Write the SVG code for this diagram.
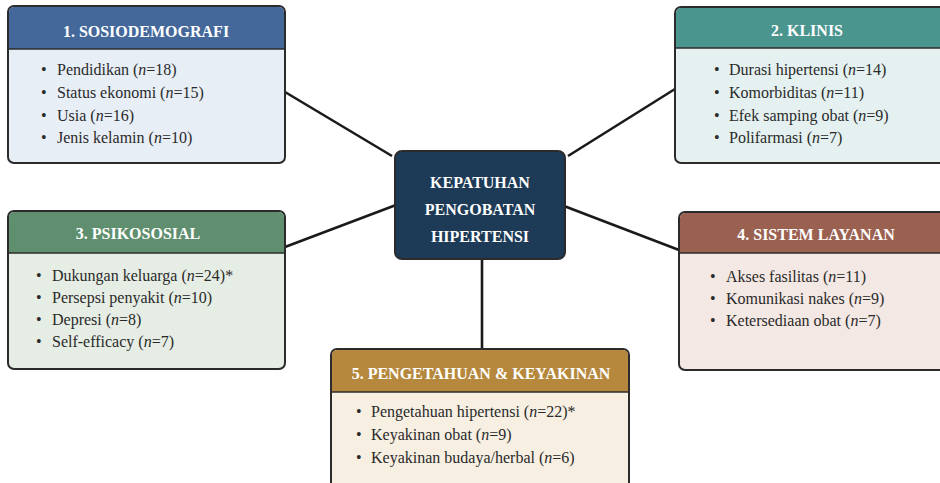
<svg xmlns="http://www.w3.org/2000/svg" width="940" height="483" viewBox="0 0 940 483">
<style>
.frame{stroke:#2b2b2b;stroke-width:2}
.sep{stroke:#2b2b2b;stroke-width:1.6}
.title{font-family:"Liberation Serif","Times New Roman",serif;font-size:16px;font-weight:bold;fill:#ffffff;text-anchor:middle}
.item{font-family:"Liberation Serif","Times New Roman",serif;font-size:16px;fill:#2a2a2a}
.i{font-style:italic}
.link{stroke:#1a1a1a;stroke-width:2.6;fill:none}
</style>
<rect width="940" height="483" fill="#ffffff"/>
<g id="connectors">
<line class="link" x1="285" y1="92" x2="392" y2="156"/>
<line class="link" x1="675" y1="89" x2="568" y2="156"/>
<line class="link" x1="285" y1="247" x2="396" y2="205"/>
<line class="link" x1="564" y1="206" x2="679" y2="250"/>
<line class="link" x1="482" y1="259" x2="482" y2="349"/>
</g>
<g id="center">
<rect x="395" y="151" width="170" height="108" rx="7" fill="#1d3a56" class="frame"/>
<text class="title" x="480" y="188">KEPATUHAN</text>
<text class="title" x="480" y="215">PENGOBATAN</text>
<text class="title" x="480" y="242">HIPERTENSI</text>
</g>
<g id="sosiodemografi">
<rect x="8" y="6" width="277" height="157" rx="6" fill="#e8eef6" class="frame"/>
<path d="M9,49 V12 a5,5 0 0 1 5,-5 H279 a5,5 0 0 1 5,5 V49 Z" fill="#44689a"/>
<line class="sep" x1="8" y1="49" x2="285" y2="49"/>
<text class="title" x="146" y="37">1. SOSIODEMOGRAFI</text>
<text class="item" x="41" y="75">•</text><text class="item" x="57" y="75">Pendidikan (<tspan class="i">n</tspan>=18)</text>
<text class="item" x="41" y="98">•</text><text class="item" x="57" y="98">Status ekonomi (<tspan class="i">n</tspan>=15)</text>
<text class="item" x="41" y="121">•</text><text class="item" x="57" y="121">Usia (<tspan class="i">n</tspan>=16)</text>
<text class="item" x="41" y="143">•</text><text class="item" x="57" y="143">Jenis kelamin (<tspan class="i">n</tspan>=10)</text>
</g>
<g id="klinis">
<rect x="675" y="7" width="275" height="156" rx="6" fill="#e4f1f0" class="frame"/>
<path d="M676,48 V13 a5,5 0 0 1 5,-5 H950 V48 Z" fill="#4b958f"/>
<line class="sep" x1="675" y1="48" x2="945" y2="48"/>
<text class="title" x="807" y="36">2. KLINIS</text>
<text class="item" x="714" y="75">•</text><text class="item" x="729" y="75">Durasi hipertensi (<tspan class="i">n</tspan>=14)</text>
<text class="item" x="714" y="98">•</text><text class="item" x="729" y="98">Komorbiditas (<tspan class="i">n</tspan>=11)</text>
<text class="item" x="714" y="121">•</text><text class="item" x="729" y="121">Efek samping obat (<tspan class="i">n</tspan>=9)</text>
<text class="item" x="714" y="143">•</text><text class="item" x="729" y="143">Polifarmasi (<tspan class="i">n</tspan>=7)</text>
</g>
<g id="psikososial">
<rect x="8" y="211" width="277" height="158" rx="6" fill="#e6ede4" class="frame"/>
<path d="M9,253 V217 a5,5 0 0 1 5,-5 H279 a5,5 0 0 1 5,5 V253 Z" fill="#5f8f6f"/>
<line class="sep" x1="8" y1="253" x2="285" y2="253"/>
<text class="title" x="138" y="239">3. PSIKOSOSIAL</text>
<text class="item" x="36" y="281">•</text><text class="item" x="52" y="281">Dukungan keluarga (<tspan class="i">n</tspan>=24)*</text>
<text class="item" x="36" y="303">•</text><text class="item" x="52" y="303">Persepsi penyakit (<tspan class="i">n</tspan>=10)</text>
<text class="item" x="36" y="325">•</text><text class="item" x="52" y="325">Depresi (<tspan class="i">n</tspan>=8)</text>
<text class="item" x="36" y="347">•</text><text class="item" x="52" y="347">Self-efficacy (<tspan class="i">n</tspan>=7)</text>
</g>
<g id="sistem-layanan">
<rect x="679" y="212" width="271" height="158" rx="6" fill="#f4e8e4" class="frame"/>
<path d="M680,253 V218 a5,5 0 0 1 5,-5 H950 V253 Z" fill="#9b6150"/>
<line class="sep" x1="679" y1="253" x2="945" y2="253"/>
<text class="title" x="816" y="240">4. SISTEM LAYANAN</text>
<text class="item" x="710" y="282">•</text><text class="item" x="726" y="282">Akses fasilitas (<tspan class="i">n</tspan>=11)</text>
<text class="item" x="710" y="304">•</text><text class="item" x="726" y="304">Komunikasi nakes (<tspan class="i">n</tspan>=9)</text>
<text class="item" x="710" y="326">•</text><text class="item" x="726" y="326">Ketersediaan obat (<tspan class="i">n</tspan>=7)</text>
</g>
<g id="pengetahuan">
<rect x="331" y="349" width="298" height="145" rx="6" fill="#f6efe2" class="frame"/>
<path d="M332,392 V355 a5,5 0 0 1 5,-5 H623 a5,5 0 0 1 5,5 V392 Z" fill="#b5883d"/>
<line class="sep" x1="331" y1="392" x2="629" y2="392"/>
<text class="title" x="481" y="379">5.  PENGETAHUAN &amp; KEYAKINAN</text>
<text class="item" x="356" y="417">•</text><text class="item" x="371" y="417">Pengetahuan hipertensi (<tspan class="i">n</tspan>=22)*</text>
<text class="item" x="356" y="440">•</text><text class="item" x="371" y="440">Keyakinan obat (<tspan class="i">n</tspan>=9)</text>
<text class="item" x="356" y="463">•</text><text class="item" x="371" y="463">Keyakinan budaya/herbal (<tspan class="i">n</tspan>=6)</text>
</g>
</svg>
